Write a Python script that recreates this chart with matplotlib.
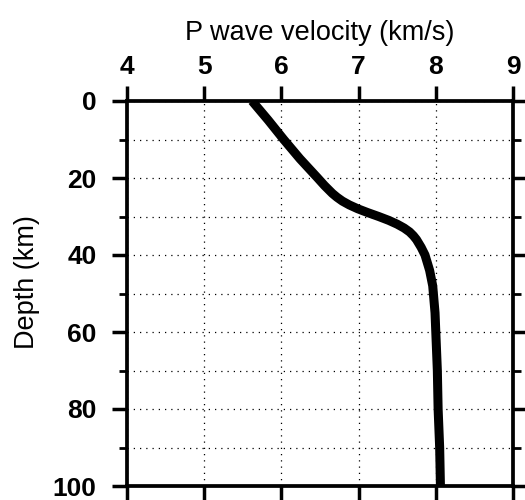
import matplotlib
matplotlib.use('Agg')
import matplotlib.pyplot as plt
from matplotlib.ticker import MultipleLocator

plt.rcParams['font.family'] = ['Liberation Sans', 'DejaVu Sans']

# P-wave velocity profile
depth = [0, 5, 10, 15, 20, 22, 24, 25, 26, 27, 28, 29, 30, 31, 32, 33,
         34, 35, 36, 38, 40, 42, 44, 48, 55, 60, 70, 80, 90, 100]
velocity = [5.62, 5.83, 6.03, 6.24, 6.47, 6.56, 6.66, 6.72, 6.79, 6.88,
            6.99, 7.12, 7.26, 7.39, 7.50, 7.59, 7.66, 7.71, 7.75, 7.81,
            7.86, 7.89, 7.92, 7.96, 7.99, 8.00, 8.02, 8.03, 8.05, 8.06]

x_ticks = [4, 5, 6, 7, 8, 9]
y_ticks = [0, 20, 40, 60, 80, 100]

fig = plt.figure(figsize=(5.25, 5.0), dpi=100)
ax = fig.add_axes([127 / 525, 14 / 500, 386 / 525, 385 / 500])

ax.plot(velocity, depth, color='black', lw=6.5, solid_capstyle='butt',
        solid_joinstyle='round', zorder=3)

ax.set_xlim(4, 9)
ax.set_ylim(100, 0)
ax.set_xticks(x_ticks)
ax.set_yticks(y_ticks)
ax.yaxis.set_minor_locator(MultipleLocator(10))

ax.xaxis.tick_top()
ax.xaxis.set_label_position('top')
ax.tick_params(axis='x', which='both', top=True, bottom=True,
               labeltop=True, labelbottom=False, direction='out',
               length=11, width=2.5, pad=5, labelsize=19)
ax.tick_params(axis='y', which='major', left=True, right=True,
               direction='out', length=11, width=2.5, pad=11, labelsize=19)
ax.tick_params(axis='y', which='minor', left=True, right=True,
               direction='out', length=6, width=2.0)
for lab in ax.get_xticklabels() + ax.get_yticklabels():
    lab.set_fontweight('bold')

ax.grid(True, which='both', color='black', linestyle=(0, (1, 4)),
        linewidth=0.9)
ax.set_axisbelow(True)

for sp in ax.spines.values():
    sp.set_linewidth(2.7)

ax.set_xlabel('P wave velocity (km/s)', fontsize=19.5, labelpad=11)
ax.set_ylabel('Depth (km)', fontsize=19.5)
ax.yaxis.set_label_coords(-0.225, 0.53)

fig.savefig('out.png', dpi=100)
